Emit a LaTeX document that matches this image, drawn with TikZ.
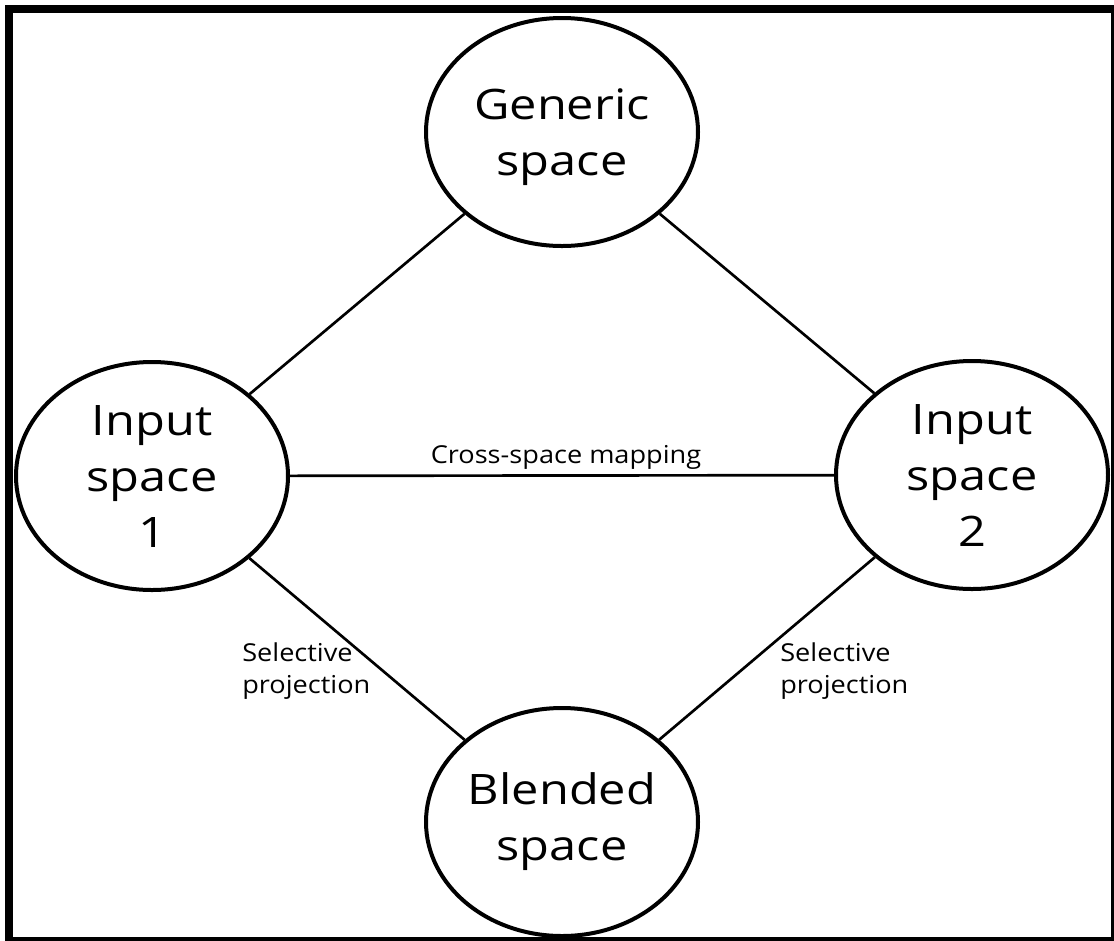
\documentclass[tikz,border=0pt]{standalone}
\usepackage{fontspec}
\setmainfont{Open Sans}[FakeStretch=1.1]
\newfontfamily\bigfont{Open Sans}[FakeStretch=1.16]
\usetikzlibrary{shapes.geometric}
\begin{document}
\begin{tikzpicture}[x=0.75pt,y=-0.75pt,
  space/.style={draw=black, line width=3pt, ellipse, inner sep=0pt,
    minimum width=204pt, minimum height=171pt, align=center,
    font=\bigfont\fontsize{31.5pt}{42pt}\selectfont},
  link/.style={draw=black, line width=2pt},
  lbl/.style={inner sep=0pt, font=\fontsize{18.5pt}{24pt}\selectfont}]
\useasboundingbox (0,0) rectangle (1114,940);
\clip (0,0) rectangle (1114,940);
\fill[white] (0,0) rectangle (1114,940);
\draw[line width=6pt] (9,9) rectangle (1115,941);
\node[space, text depth=0pt] (gen) at (562,132) {Generic\\space};
\node[space] (in1) at (152,476) {Input\\space\\1};
\node[space] (in2) at (972,475) {Input\\space\\2};
\node[space] (bl) at (562,822) {Blended\\space};
\draw[link] (gen) -- (in1);
\draw[link] (gen) -- (in2);
\draw[link] (in1) -- (in2);
\draw[link] (in1) -- (bl);
\draw[link] (in2) -- (bl);
\node[lbl, anchor=center] (cross) at (566,457) {Cross-space mapping};
\node[lbl, anchor=west, align=left] (sel1) at (242,671) {Selective\\projection};
\node[lbl, anchor=west, align=left] (sel2) at (780,671) {Selective\\projection};
\end{tikzpicture}
\end{document}
